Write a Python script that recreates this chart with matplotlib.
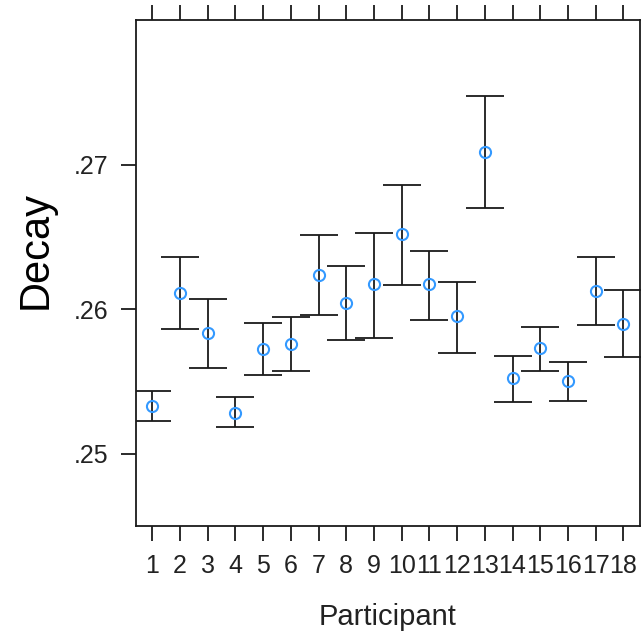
import matplotlib
matplotlib.use("Agg")
import matplotlib.pyplot as plt

# decay estimate per participant, with lower / upper bounds of the interval
participants = list(range(1, 19))
decay = [0.25329, 0.26114, 0.25837, 0.25284, 0.25727, 0.25758, 0.26236, 0.26042, 0.26172,
         0.26518, 0.26172, 0.25954, 0.27090, 0.25526, 0.25729, 0.25500, 0.26125, 0.25900]
lower = [0.25224, 0.25862, 0.25592, 0.25182, 0.25547, 0.25570, 0.25959, 0.25788, 0.25797,
         0.26165, 0.25927, 0.25699, 0.26698, 0.25355, 0.25570, 0.25364, 0.25893, 0.25668]
upper = [0.25431, 0.26361, 0.26068, 0.25390, 0.25907, 0.25948, 0.26511, 0.26296, 0.26525,
         0.26857, 0.26405, 0.26187, 0.27475, 0.25678, 0.25874, 0.25634, 0.26361, 0.26132]
yticks = [0.25, 0.26, 0.27]
ytick_labels = [".25", ".26", ".27"]

plt.rcParams["font.family"] = ["Liberation Sans", "DejaVu Sans"]
ink = "#1a1a1a"

fig = plt.figure(figsize=(6.41, 6.34), dpi=100)
ax = fig.add_axes([136 / 641, 1 - 526 / 634, 504 / 641, 506 / 634])

err = [[d - lo for d, lo in zip(decay, lower)], [hi - d for d, hi in zip(decay, upper)]]
ax.errorbar(participants, decay, yerr=err, fmt="none", ecolor=ink,
            elinewidth=1.3, capsize=13.7, capthick=1.3, zorder=2)
ax.plot(participants, decay, "o", ms=8, mfc="none", mec="#3399ff", mew=1.5, zorder=3)

ax.set_xlim(0.41, 18.6)
ax.set_ylim(0.245, 0.28)
ax.set_xticks(participants)
ax.set_xticklabels([str(p) for p in participants])
ax.set_yticks(yticks)
ax.set_yticklabels(ytick_labels)
ax.tick_params(direction="out", length=11, width=1.3, color=ink,
               labelsize=18, labelcolor="#222222", top=True, labeltop=False, pad=9)
for s in ax.spines.values():
    s.set_linewidth(1.3)
    s.set_color(ink)

ax.set_xlabel("Participant", fontsize=21, color="#222222", labelpad=18)
fig.text(36 / 641, 1 - 250 / 634, "Decay", rotation=90, fontsize=30,
         ha="center", va="center")

fig.savefig("out.png", dpi=100)
